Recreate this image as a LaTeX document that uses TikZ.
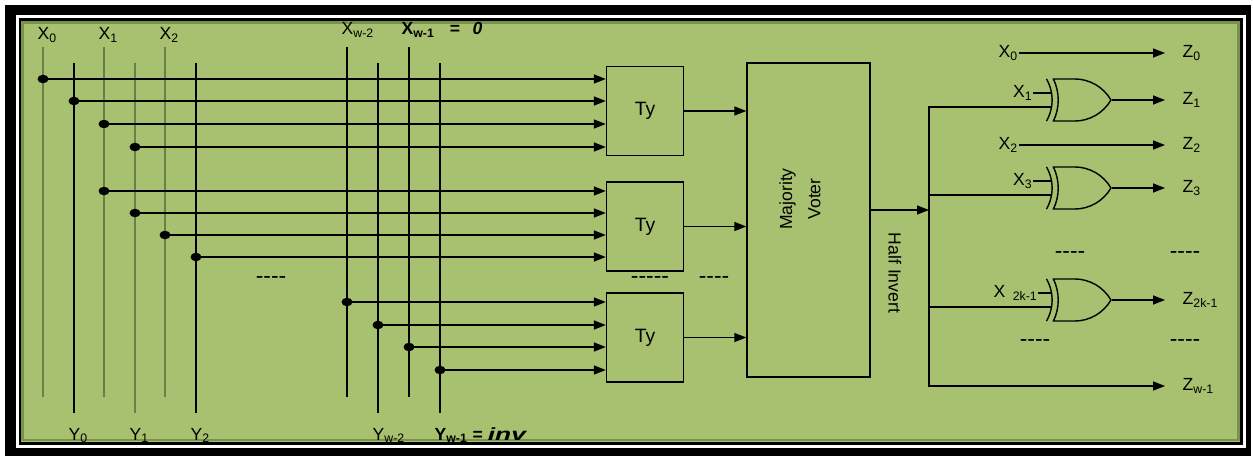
\documentclass[tikz,border=0pt]{standalone}
\usepackage{fontspec}
\usepackage{graphicx}
\setmainfont{Liberation Sans}
\usetikzlibrary{positioning, arrows.meta, shapes.geometric, shapes.gates.logic.US}
\definecolor{boardgreen}{RGB}{167,193,112}
\definecolor{shadegreen}{RGB}{120,145,75}
\definecolor{faintline}{RGB}{105,128,68}

\begin{document}
\begin{tikzpicture}[
x=0.02cm, y=-0.02cm, line width=0.8pt,
>={Triangle[length=0.24cm, width=0.18cm]},
lbl/.style={inner sep=0, font=\fontsize{10}{12}\selectfont},
boldlbl/.style={inner sep=0, font=\fontsize{10}{12}\selectfont\bfseries},
tybox/.style={rectangle, draw, minimum width=1.54cm, minimum height=1.78cm, inner sep=0, font=\fontsize{11}{13}\selectfont},
voter/.style={rectangle, draw, minimum width=2.46cm, minimum height=6.28cm},
tap/.style={ellipse, fill, inner sep=0, minimum width=0.22cm, minimum height=0.17cm},
xorg/.style={xor gate US, draw, logic gate inputs=nn, logic gate input sep=0.15cm, minimum width=1.15cm, minimum height=0.6cm, inner sep=0},
skipmark/.style={inner sep=0, font=\fontsize{13}{13}\selectfont},
node distance=0.4cm
]
%Frame
\useasboundingbox (0,0) rectangle (1253,456);
\fill[white] (0,0) rectangle (1253,456);
\fill[black] (5,5) rectangle (1251,456);
\fill[white] (15.5,15.5) rectangle (1246,448);
\fill[black] (18.5,18.5) rectangle (1243,444.5);
\fill[boardgreen] (21,21) rectangle (1240,441.5);
\draw[shadegreen, line width=0.05cm] (22.5,22.5) rectangle (1238.5,440);

%Input bit lines
\foreach \nm/\xx in {X0/43, X1/104, X2/165, Xa/347, Xb/409}{
  \coordinate (\nm t) at (\xx,47);
  \coordinate (\nm b) at (\xx,397);
}
\foreach \nm/\xx in {Y0/74, Y1/135, Y2/196, Ya/378, Yb/440}{
  \coordinate (\nm t) at (\xx,63);
  \coordinate (\nm b) at (\xx,413);
}
\foreach \nm in {X0,X1,Y1,X2}
  \draw[faintline, line width=1.3pt] (\nm t) -- (\nm b);
\foreach \nm in {Y0,Y2,Xa,Ya,Yb}
  \draw (\nm t) -- (\nm b);
\draw[line width=1.1pt] (Xbt) -- (Xbb);

\node[lbl, anchor=base west] (lX0) at (37,40) {X\textsubscript{0}};
\node[lbl, anchor=base west] (lX1) at (98,40) {X\textsubscript{1}};
\node[lbl, anchor=base west] (lX2) at (159,40) {X\textsubscript{2}};
\node[lbl, anchor=base west] (lXa) at (341,35) {X\textsubscript{w-2}};
\node[boldlbl, anchor=base west] (lXb) at (401,35) {X\textsubscript{w-1}\hspace{0.3cm}=\hspace{0.25cm}\textit{0}};

\node[lbl, anchor=base west] (lY0) at (68,440) {Y\textsubscript{0}};
\node[lbl, anchor=base west] (lY1) at (129,440) {Y\textsubscript{1}};
\node[lbl, anchor=base west] (lY2) at (190,440) {Y\textsubscript{2}};
\node[lbl, anchor=base west] (lYa) at (372,440) {Y\textsubscript{w-2}};
\node[boldlbl, anchor=base west] (lYb) at (434,440) {Y\textsubscript{w-1} = \scalebox{1.5}[1]{\textit{inv}}};

%Blocks
\node[tybox] (T1) at (645,111) {Ty};
\node[tybox] (T2) at (645,226.5) {Ty};
\node[tybox] (T3) at (645,337.5) {Ty};
\node[voter] (MV) at (808.5,220) {};
\node[lbl, rotate=90, align=center, font=\fontsize{10}{16}\selectfont] (MVt) at (800,199) {Majority\\Voter};

%Taps into the Ty blocks
\foreach \xx/\yy/\bx [count=\i] in {43/79/T1, 74/101/T1, 104/124/T1, 135/147/T1,
  104/191/T2, 135/213/T2, 165/235/T2, 196/257/T2,
  347/302/T3, 378/325/T3, 409/347/T3, 440/370/T3}{
  \node[tap] (p\i) at (\xx,\yy) {};
  \draw[->] (p\i.center) -- (p\i -| \bx.west);
}
\foreach \bx in {T1,T2,T3}
  \draw[->] (\bx.east) -- (\bx.east -| MV.west);

\node[skipmark] (s1) at (271,280) {-{}-{}-{}-};
\node[skipmark] (s2) at (650,280) {-{}-{}-{}-{}-};
\node[skipmark] (s3) at (714,280) {-{}-{}-{}-};

%Half invert stage
\coordinate (busj) at (929,210);
\coordinate (busb) at (929,386);
\draw[->] (MV.east |- busj) -- (busj);
\node[lbl, rotate=-90] (HI) at (895,273) {Half Invert};

\node[xorg] (G1) at (1078,100) {};
\node[xorg] (G3) at (1078,188) {};
\node[xorg] (Gk) at (1078,300) {};

\foreach \nm/\yy in {e0/53, e1/100, e2/145, e3/188, ek/300, ew/386}
  \coordinate (\nm) at (1165,\yy);

\node[lbl, anchor=west] (R0) at (998,53) {X\textsubscript{0}};
\node[lbl, anchor=west] (R2) at (998,145) {X\textsubscript{2}};
\node[lbl, left=0.35cm of G1.input 1] (R1) {X\textsubscript{1}};
\node[lbl, left=0.35cm of G3.input 1] (R3) {X\textsubscript{3}};
\node[lbl, left=0.25cm of Gk.input 1] (Rk) {X\hspace{0.15cm}\textsubscript{2k-1}};

\node[lbl, right=0.34cm of e0] (Z0) {Z\textsubscript{0}};
\node[lbl, right=0.34cm of e1] (Z1) {Z\textsubscript{1}};
\node[lbl, right=0.34cm of e2] (Z2) {Z\textsubscript{2}};
\node[lbl, right=0.34cm of e3] (Z3) {Z\textsubscript{3}};
\node[lbl, right=0.34cm of ek] (Zk) {Z\textsubscript{2k-1}};
\node[lbl, right=0.34cm of ew] (Zw) {Z\textsubscript{w-1}};

\draw[->] (R0) -- (e0);
\draw[->] (R2) -- (e2);
\draw (R1) -- (G1.input 1);
\draw (R3) -- (G3.input 1);
\draw (Rk) -- (Gk.input 1);
\draw[->] (G1.output) -- (e1);
\draw[->] (G3.output) -- (e3);
\draw[->] (Gk.output) -- (ek);

\draw[->] (G1.input 2) -| (busb) -- (ew);
\draw (G3.input 2) -- (G3.input 2 -| busb);
\draw (Gk.input 2) -- (Gk.input 2 -| busb);

\node[skipmark] (s4) at (1070,255) {-{}-{}-{}-};
\node[skipmark] (s5) at (1185,255) {-{}-{}-{}-};
\node[skipmark] (s6) at (1035,343) {-{}-{}-{}-};
\node[skipmark] (s7) at (1185,343) {-{}-{}-{}-};
\end{tikzpicture}
\end{document}
